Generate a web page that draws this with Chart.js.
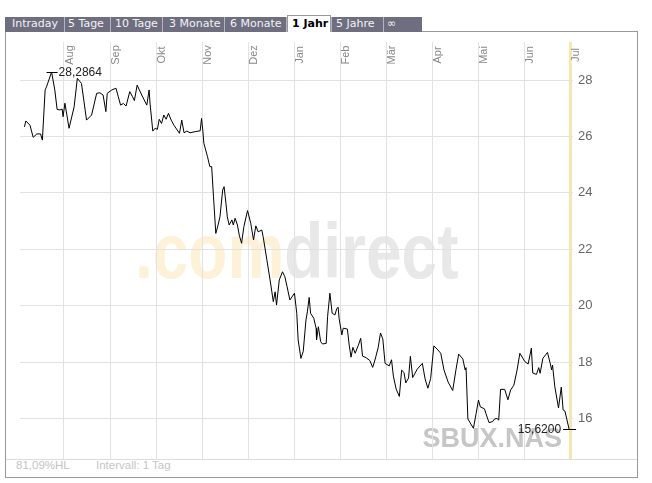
<!DOCTYPE html>
<html>
<head>
<meta charset="utf-8">
<title>SBUX.NAS 1 Jahr</title>
<script src="https://cdn.jsdelivr.net/npm/chart.js@4.4.1/dist/chart.umd.min.js"></script>
<style>
body { margin:0; background:#fff; }
#wrap { position:relative; width:652px; height:483px; overflow:hidden; }
#frame { position:absolute; left:5px; top:31px; width:631px; height:445px; border:1px solid #999; }
#sep { position:absolute; left:6px; top:459px; width:631px; height:1px; background:#dcdcdc; }
#tabbar { position:absolute; left:5px; top:17px; width:417px; height:15px; background:#b4b4c0; }
.tab { position:absolute; top:17px; height:15px; line-height:15px; background:#6e6e80; color:#f2f2f2;
       font:11px "DejaVu Sans", Verdana, sans-serif; white-space:nowrap; overflow:hidden; box-sizing:border-box; }
.tab.active { top:15px; height:17px; background:#fff; color:#000; font-weight:bold;
              border:1px solid #999; border-bottom:none; line-height:16px; }
.foot { position:absolute; top:459px; line-height:13px; font:11.5px "Liberation Sans", Arial, sans-serif; color:#c4c4c4; }
canvas { position:absolute; left:0; top:0; }
</style>
</head>
<body>
<div id="wrap">
  <div id="frame"></div>
  <div id="sep"></div>
  <div id="tabbar"></div>
  <div class="tab" style="left:5px;width:59px;padding-left:7px">Intraday</div>
  <div class="tab" style="left:65px;width:45px;padding-left:3px">5 Tage</div>
  <div class="tab" style="left:111px;width:51px;padding-left:4px">10 Tage</div>
  <div class="tab" style="left:163px;width:61px;padding-left:6px">3 Monate</div>
  <div class="tab" style="left:225px;width:61px;padding-left:5px">6 Monate</div>
  <div class="tab active" style="left:287px;width:44px;padding-left:4px">1 Jahr</div>
  <div class="tab" style="left:332px;width:51px;padding-left:4px">5 Jahre</div>
  <div class="tab" style="left:384px;width:38px;padding-left:3px">&infin;</div>
  <div class="foot" id="hl" style="left:16px"></div>
  <div class="foot" style="left:96px">Intervall: 1 Tag</div>
  <canvas id="kurs" width="652" height="483"></canvas>
</div>
<script>
// Achsen
var monthLabels = ['Aug', 'Sep', 'Okt', 'Nov', 'Dez', 'Jan', 'Feb', 'Mär', 'Apr', 'Mai', 'Jun', 'Jul']
var monthTicks = [1, 2, 3, 4, 5, 6, 7, 8, 9, 10, 11, 12]
var yTicks = [16, 18, 20, 22, 24, 26, 28]
var symbol = 'SBUX.NAS'

// Zeitpunkt in Monaten (Aug = 1 ... Jul = 12) und Schlusskurs
var xPos = [
    0.14, 0.17, 0.26, 0.33, 0.41, 0.49, 0.53, 0.59, 0.62, 0.73,
    0.80, 0.85, 0.91, 0.96, 0.98, 1.02, 1.11, 1.22, 1.29, 1.38,
    1.49, 1.60, 1.71, 1.78, 1.85, 1.91, 1.94, 2.04, 2.13, 2.18,
    2.23, 2.29, 2.35, 2.43, 2.49, 2.53, 2.59, 2.69, 2.80, 2.85,
    2.87, 2.93, 2.98, 3.03, 3.07, 3.12, 3.17, 3.22, 3.27, 3.33,
    3.39, 3.51, 3.56, 3.61, 3.67, 3.74, 3.85, 3.96, 3.99, 4.02,
    4.04, 4.12, 4.17, 4.21, 4.25, 4.30, 4.35, 4.39, 4.45, 4.48,
    4.52, 4.55, 4.59, 4.65, 4.68, 4.72, 4.77, 4.81, 4.86, 4.91,
    4.99, 5.06, 5.12, 5.17, 5.22, 5.30, 5.33, 5.41, 5.48, 5.55,
    5.59, 5.62, 5.68, 5.75, 5.80, 5.85, 5.91, 6.01, 6.06, 6.09,
    6.15, 6.20, 6.26, 6.29, 6.33, 6.36, 6.43, 6.48, 6.49, 6.53,
    6.58, 6.62, 6.70, 6.73, 6.78, 6.83, 6.89, 6.93, 6.96, 6.98,
    7.04, 7.07, 7.16, 7.20, 7.24, 7.28, 7.33, 7.40, 7.45, 7.49,
    7.57, 7.65, 7.71, 7.76, 7.83, 7.88, 7.93, 7.98, 8.07, 8.12,
    8.16, 8.22, 8.29, 8.34, 8.39, 8.43, 8.49, 8.53, 8.58, 8.68,
    8.79, 8.85, 8.91, 8.97, 9.04, 9.11, 9.19, 9.26, 9.35, 9.45,
    9.52, 9.58, 9.67, 9.72, 9.74, 9.78, 9.90, 9.96, 10.01, 10.05,
    10.14, 10.17, 10.24, 10.32, 10.36, 10.41, 10.45, 10.49, 10.58, 10.65,
    10.71, 10.78, 10.85, 10.91, 11.02, 11.09, 11.16, 11.19, 11.27, 11.32,
    11.35, 11.41, 11.51, 11.57, 11.60, 11.62, 11.67, 11.75, 11.81, 11.85,
    11.89, 11.98
]
var prices = [
    26.34, 26.55, 26.40, 25.97, 26.09, 26.09, 25.87, 27.65, 27.76, 28.2864,
    27.65, 26.96, 26.94, 26.97, 26.70, 27.18, 26.29, 27.05, 28.06, 27.88,
    26.58, 26.76, 27.53, 27.55, 27.47, 26.88, 27.53, 27.65, 27.71, 27.41,
    27.11, 27.17, 27.08, 27.59, 27.41, 27.27, 27.82, 27.47, 27.11, 27.65,
    27.18, 26.19, 26.29, 26.25, 26.61, 26.46, 26.76, 26.61, 26.82, 26.58,
    26.40, 26.11, 26.58, 26.13, 26.19, 26.13, 26.17, 26.20, 26.64, 26.17,
    25.76, 25.28, 24.93, 24.93, 23.86, 22.56, 22.86, 23.15, 24.10, 24.22,
    23.63, 23.15, 22.86, 23.04, 22.86, 23.10, 22.86, 22.50, 22.21, 22.80,
    23.37, 22.92, 22.33, 22.83, 22.62, 22.68, 22.44, 21.62, 20.91, 20.14,
    20.49, 20.02, 20.91, 21.20, 21.03, 20.67, 20.20, 20.44, 19.73, 18.78,
    18.13, 18.37, 19.49, 19.78, 20.29, 19.73, 19.55, 19.20, 18.78, 19.25,
    18.72, 18.64, 18.66, 19.61, 20.44, 19.73, 19.67, 19.90, 19.94, 19.55,
    18.96, 19.20, 19.17, 18.60, 18.17, 18.52, 18.31, 18.60, 18.84, 18.21,
    18.15, 18.05, 17.81, 18.07, 18.51, 19.03, 18.82, 17.95, 17.86, 18.08,
    17.50, 17.04, 16.78, 17.71, 17.63, 17.26, 17.43, 18.20, 17.45, 17.75,
    17.95, 17.40, 17.07, 17.41, 18.57, 18.46, 18.31, 17.72, 17.29, 16.99,
    17.72, 18.28, 18.11, 17.72, 17.80, 15.98, 15.65, 16.18, 16.65, 16.41,
    16.34, 16.18, 15.85, 15.89, 15.98, 16.00, 15.94, 17.03, 17.03, 16.66,
    17.01, 17.18, 17.72, 18.31, 18.01, 17.93, 18.49, 17.61, 17.56, 17.80,
    17.60, 18.13, 18.34, 17.95, 17.72, 17.89, 17.12, 16.37, 17.11, 16.30,
    16.26, 15.62
]

var points = xPos.map((x, i) => ({ x: x, y: prices[i] }))
var hi = Math.max(...prices)
var lo = Math.min(...prices)

function deNum(v, d)
{
    return v.toFixed(d).replace('.', ',')
}

document.getElementById('hl').textContent = deNum((hi - lo) / lo * 100, 2) + '%HL'

Chart.defaults.font.family = '"Liberation Sans", Arial, sans-serif'

// Logo, Monate und Hoch/Tief-Markierung
var decor = {
    id: 'decor',
    beforeDraw: function(chart) {
        var ctx = chart.ctx
        ctx.save()
        ctx.translate(135, 278)
        ctx.scale(0.82, 1)
        ctx.font = 'bold 78px "Liberation Sans", Arial'
        ctx.textBaseline = 'alphabetic'
        ctx.fillStyle = '#fdf1d8'
        ctx.fillText('.com', 0, 0)
        var w = ctx.measureText('.com').width
        ctx.fillStyle = '#e8e8e8'
        ctx.fillText('direct', w, 0)
        ctx.restore()

        ctx.save()
        ctx.font = 'bold 27px "Liberation Sans", Arial'
        ctx.fillStyle = '#c6c6c6'
        ctx.textAlign = 'right'
        ctx.fillText(symbol, 562, 447)
        ctx.restore()
    },
    afterDraw: function(chart) {
        var ctx = chart.ctx
        var xs = chart.scales.x
        var ys = chart.scales.y
        ctx.save()
        ctx.font = '11px "Liberation Sans", Arial'
        ctx.fillStyle = '#888'
        ctx.textAlign = 'center'
        ctx.textBaseline = 'middle'
        monthTicks.forEach((m, i) => {
            ctx.save()
            ctx.translate(xs.getPixelForValue(m) + 6, 55)
            ctx.rotate(-Math.PI / 2)
            ctx.fillText(monthLabels[i], 0, 0)
            ctx.restore()
        })
        ctx.restore()

        var iHi = prices.indexOf(hi)
        var iLo = prices.lastIndexOf(lo)
        ctx.save()
        ctx.strokeStyle = '#000'
        ctx.lineWidth = 1
        ctx.fillStyle = '#222'
        ctx.font = '12px "Liberation Sans", Arial'
        ctx.textBaseline = 'middle'

        var px = xs.getPixelForValue(xPos[iHi])
        var py = Math.round(ys.getPixelForValue(hi)) + 0.5
        ctx.beginPath()
        ctx.moveTo(px - 5, py)
        ctx.lineTo(px + 6, py)
        ctx.stroke()
        ctx.textAlign = 'left'
        ctx.fillText(deNum(hi, 4), px + 7, py)

        px = xs.getPixelForValue(xPos[iLo])
        py = Math.round(ys.getPixelForValue(lo)) + 0.5
        ctx.beginPath()
        ctx.moveTo(px - 6, py)
        ctx.lineTo(px + 7, py)
        ctx.stroke()
        ctx.textAlign = 'right'
        ctx.fillText(deNum(lo, 4), px - 8, py)
        ctx.restore()
    }
}

var ctx = document.getElementById('kurs').getContext('2d')
var kursChart = new Chart(ctx, {
    type: 'line',
    data: {
        datasets: [{
            data: points,
            borderColor: '#000',
            borderWidth: 1,
            pointRadius: 0,
            tension: 0,
            fill: false
        }]
    },
    options: {
        responsive: false,
        animation: false,
        layout: {
            padding: { left: 20, top: 42, right: 39, bottom: 24 }
        },
        plugins: {
            legend: { display: false },
            tooltip: { enabled: false }
        },
        scales: {
            x: {
                type: 'linear',
                min: 0.0435,
                max: 12.065,
                afterBuildTicks: (scale) => { scale.ticks = monthTicks.map(v => ({ value: v })) },
                afterFit: (scale) => { scale.height = 0 },
                ticks: { display: false },
                border: { display: false },
                grid: {
                    drawTicks: false,
                    color: (c) => c.tick && c.tick.value === 12 ? '#f6e7ae' : '#e2e2e2',
                    lineWidth: (c) => c.tick && c.tick.value === 12 ? 3 : 1
                }
            },
            y: {
                position: 'right',
                min: 14.56,
                max: 29.35,
                afterBuildTicks: (scale) => { scale.ticks = yTicks.map(v => ({ value: v })) },
                afterFit: (scale) => { scale.width = 40 },
                border: { display: false },
                grid: { drawTicks: false, color: '#e2e2e2' },
                ticks: {
                    padding: 5,
                    color: '#666',
                    font: { size: 13 }
                }
            }
        }
    },
    plugins: [decor]
})
</script>
</body>
</html>
